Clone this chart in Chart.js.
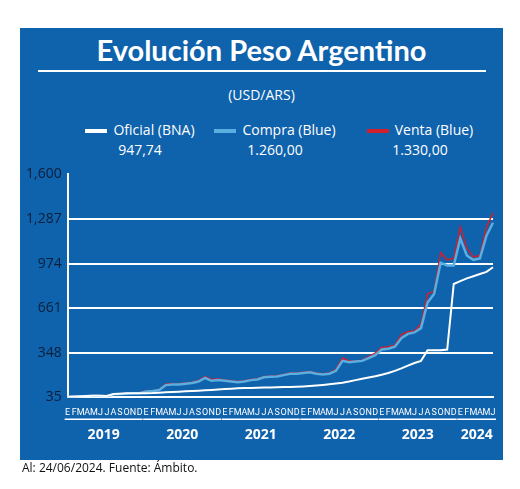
<!DOCTYPE html>
<html>
<head>
<meta charset="utf-8">
<script src="https://cdn.jsdelivr.net/npm/chart.js@4"></script>
<style>
  body { margin: 0; background: #fff; font-family: "Open Sans", sans-serif; }
  #panel { position: absolute; left: 20px; top: 28px; width: 483px; height: 432px; background: #0f62ac; }
  #title { position: absolute; left: 0; width: 483px; top: 4px; text-align: center; color: #fff; font-family: "Lato", sans-serif; font-weight: bold; font-size: 29px; }
  #rule { position: absolute; left: 18px; width: 448px; top: 42px; border-top: 2px solid #fff; }
  #unit { position: absolute; left: 0; width: 483px; top: 57px; text-align: center; color: #fff; font-size: 14px; }
  .leg { position: absolute; top: 92px; color: #fff; font-size: 14px; text-align: center; line-height: 20px; }
  .leg i { display: inline-block; width: 22px; height: 4px; vertical-align: middle; margin-right: 6px; }
  #wrap { position: absolute; left: 0; top: 132px; width: 483px; height: 300px; }
  #foot { position: absolute; left: 22px; top: 459px; font-size: 12px; color: #111; }
</style>
</head>
<body>
<div id="panel">
  <div id="title">Evolución Peso Argentino</div>
  <div id="rule"></div>
  <div id="unit">(USD/ARS)</div>
  <div class="leg" style="left:50px;width:140px"><i style="background:#fff"></i>Oficial (BNA)<br>947,74</div>
  <div class="leg" style="left:185px;width:140px"><i style="background:#5aaee0"></i>Compra (Blue)<br>1.260,00</div>
  <div class="leg" style="left:330px;width:140px"><i style="background:#d0202e"></i>Venta (Blue)<br>1.330,00</div>
  <div id="wrap"><canvas id="evo" width="483" height="300"></canvas></div>
</div>
<div id="foot">Al: 24/06/2024. Fuente: Ámbito.</div>
<script>
const monthLetters = ['E','F','M','A','M','J','J','A','S','O','N','D'];
const years = ['2019','2020','2021','2022','2023','2024'];
const yTicks = [35, 348, 661, 974, 1287, 1600];

// monthly values, Jan 2019 .. Jun 2024
const oficial = [
  39,40,42,44,46,45,44,57,59,62,63,63,
  63,64,67,70,72,74,76,78,80,83,86,89,
  92,95,97,99,100,101,103,104,105,106,107,108,
  110,113,117,121,126,131,137,145,155,165,173,182,
  193,205,220,237,257,275,290,365,365,365,370,830,
  850,870,885,900,915,947.74
];
const compra = [
  37,38,40,43,45,43,42,55,57,60,62,63,
  75,78,85,120,125,125,130,135,145,170,150,155,
  150,145,140,145,155,160,175,178,180,190,200,200,
  205,210,200,195,200,220,290,280,285,290,310,330,
  370,375,390,450,480,490,520,700,760,980,960,960,
  1150,1030,1000,1010,1170,1260
];
const venta = [
  39,40,42,45,47,45,44,57,60,63,66,68,
  79,82,88,128,130,130,135,140,152,180,160,165,
  155,150,145,150,160,165,180,183,185,195,205,205,
  210,215,205,200,205,230,310,290,290,295,320,345,
  385,390,400,475,495,500,550,760,780,1050,1000,1010,
  1230,1080,1020,1030,1230,1330
];

const labels = [];
years.forEach((y, i) => {
  const n = i === 5 ? 6 : 12;
  for (let m = 0; m < n; m++) labels.push(monthLetters[m]);
});

const yearPlugin = {
  id: 'years',
  afterDraw(chart) {
    const { ctx } = chart;
    const x = chart.scales.x;
    const top = chart.chartArea.bottom + 22;
    ctx.save();
    ctx.strokeStyle = '#fff';
    ctx.lineWidth = 1.5;
    ctx.fillStyle = '#fff';
    ctx.font = 'bold 14px "Open Sans"';
    ctx.textAlign = 'center';
    years.forEach((y, i) => {
      const first = i * 12;
      const last = Math.min(first + 11, labels.length - 1);
      const x0 = x.getPixelForValue(first) - 3;
      const x1 = x.getPixelForValue(last) + 3;
      ctx.beginPath();
      ctx.moveTo(x0, top);
      ctx.lineTo(x1, top);
      ctx.stroke();
      ctx.fillText(y, (x0 + x1) / 2, top + 20);
    });
    ctx.restore();
  }
};

new Chart(document.getElementById('evo'), {
  type: 'line',
  data: {
    labels: labels,
    datasets: [
      { label: 'Oficial (BNA)', data: oficial, borderColor: '#ffffff', borderWidth: 2, pointRadius: 0, tension: 0 },
      { label: 'Compra (Blue)', data: compra, borderColor: '#5aaee0', borderWidth: 2.5, pointRadius: 0, tension: 0 },
      { label: 'Venta (Blue)', data: venta, borderColor: '#d0202e', borderWidth: 1.5, pointRadius: 0, tension: 0, order: 5 }
    ]
  },
  options: {
    responsive: false,
    animation: false,
    layout: { padding: { left: 0, right: 10, top: 4, bottom: 40 } },
    plugins: { legend: { display: false }, tooltip: { enabled: false } },
    scales: {
      x: {
        offset: false,
        grid: { display: false },
        border: { color: '#fff', width: 2 },
        ticks: { color: '#fff', autoSkip: false, maxRotation: 0, padding: 2, font: { family: 'Liberation Sans Narrow, Roboto', size: 9 } }
      },
      y: {
        min: 35, max: 1600,
        afterBuildTicks: s => { s.ticks = yTicks.map(v => ({ value: v })); },
        grid: { color: c => (c.tick.value === 35 || c.tick.value === 1600) ? 'rgba(0,0,0,0)' : '#fff', lineWidth: 2, drawTicks: false },
        border: { color: '#fff', width: 2 },
        ticks: { color: '#0b1f3a', padding: 6, font: { family: 'Open Sans', size: 14 } }
      }
    }
  },
  plugins: [yearPlugin]
});
</script>
</body>
</html>
